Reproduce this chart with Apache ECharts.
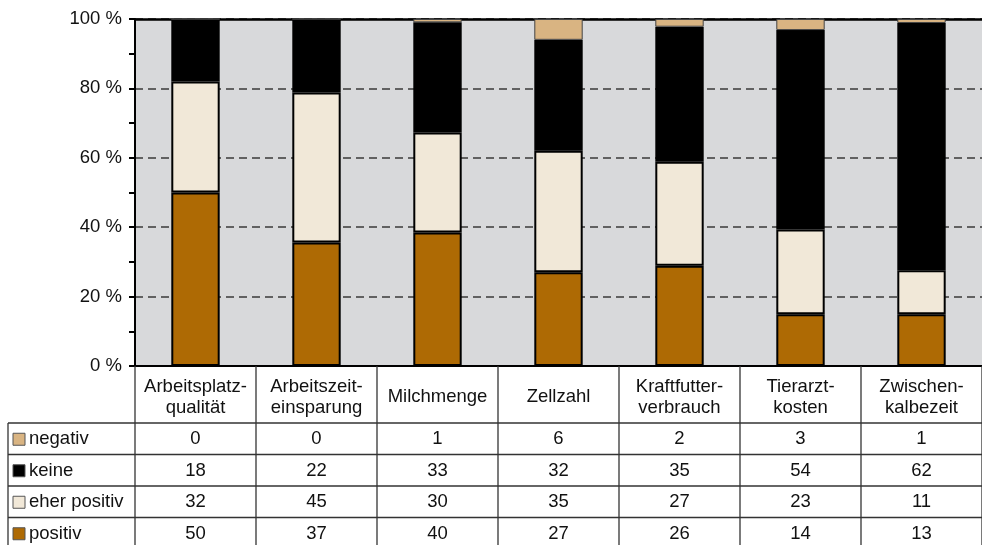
<!DOCTYPE html>
<html>
<head>
<meta charset="utf-8">
<script src="https://cdn.jsdelivr.net/npm/echarts@6/dist/echarts.min.js"></script>
<style>
  html, body { margin: 0; padding: 0; background: #fff; }
  #chart { width: 982px; height: 545px; }
</style>
</head>
<body>
<div id="chart"></div>
<script>
// Daten (Anzahl Nennungen je Kategorie)
const categories = [
  "Arbeitsplatz-\nqualität",
  "Arbeitszeit-\neinsparung",
  "Milchmenge",
  "Zellzahl",
  "Kraftfutter-\nverbrauch",
  "Tierarzt-\nkosten",
  "Zwischen-\nkalbezeit"
];
const positiv     = [50, 37, 40, 27, 26, 14, 13];
const eherPositiv = [32, 45, 30, 35, 27, 23, 11];
const keine       = [18, 22, 33, 32, 35, 54, 62];
const negativ     = [0, 0, 1, 6, 2, 3, 1];

const FONT = "'Liberation Sans', Arial, Helvetica, sans-serif";
const TXT = "#111";
const LINE = "#333";

// Reihen von unten nach oben gestapelt
const rows = [
  { name: "positiv", data: positiv, color: "#ae6a04", border: 2 },
  { name: "eher positiv", data: eherPositiv, color: "#f1e8d8", border: 2 },
  { name: "keine", data: keine, color: "#000000", border: 2 },
  { name: "negativ", data: negativ, color: "#d9b482", border: 1 }
];

// auf 100 % normieren
const totals = categories.map((c, i) => rows.reduce((s, r) => s + r.data[i], 0));
const pct = arr => arr.map((v, i) => (v / totals[i]) * 100);

const chart = echarts.init(document.getElementById("chart"), null, { renderer: "canvas" });

const gridLeft = 135, gridTop = 19, gridHeight = 347;

chart.setOption({
  animation: false,
  textStyle: { fontFamily: FONT },
  grid: {
    left: gridLeft,
    top: gridTop,
    width: 856,
    height: gridHeight,
    show: true,
    backgroundColor: "#d8d9db",
    borderWidth: 0
  },
  xAxis: [
    {
      type: "category",
      data: categories,
      axisLine: { show: true, lineStyle: { color: "#000", width: 2 } },
      axisTick: { show: false },
      axisLabel: {
        interval: 0,
        margin: 31,
        verticalAlign: "middle",
        fontSize: 18.5,
        lineHeight: 21,
        color: TXT,
        fontFamily: FONT
      }
    },
    {
      // obere Begrenzung (100 %)
      type: "category",
      data: categories,
      position: "top",
      axisLine: { show: true, lineStyle: { color: "#000", width: 2.5 } },
      axisTick: { show: false },
      axisLabel: { show: false }
    }
  ],
  yAxis: {
    type: "value",
    min: 0,
    max: 100,
    interval: 20,
    axisLine: { show: true, lineStyle: { color: "#000", width: 2 } },
    axisTick: { show: true, length: 6, lineStyle: { color: "#000", width: 2 } },
    minorTick: { show: true, splitNumber: 2, length: 6, lineStyle: { color: "#000", width: 2 } },
    splitLine: { show: true, lineStyle: { color: "#3a3a3a", width: 1.5, type: [8, 5] } },
    axisLabel: {
      formatter: "{value} %",
      fontSize: 18.5,
      color: TXT,
      margin: 13,
      fontFamily: FONT
    }
  },
  series: rows.map(r => ({
    name: r.name,
    type: "bar",
    stack: "gesamt",
    barWidth: "40%",
    data: pct(r.data),
    itemStyle: { color: r.color, borderColor: r.border > 1 ? "#000" : "#444", borderWidth: r.border },
    emphasis: { disabled: true }
  }))
});

// Datentabelle unter dem Diagramm
function drawTable() {
  const x0 = chart.convertToPixel({ xAxisIndex: 0 }, 0);
  const x1 = chart.convertToPixel({ xAxisIndex: 0 }, 1);
  const band = x1 - x0;
  const axisY = gridTop + gridHeight;
  const rowTop = [423, 454.5, 486, 517.5];
  const rowH = 31.5;
  const bottom = 545;
  const tableRows = [rows[3], rows[2], rows[1], rows[0]]; // negativ oben
  const els = [];

  const line = (xa, ya, xb, yb) => els.push({
    type: "line",
    shape: { x1: xa, y1: ya, x2: xb, y2: yb },
    style: { stroke: LINE, lineWidth: 1.3 },
    z: 10
  });

  // senkrechte Linien
  line(gridLeft, axisY, gridLeft, bottom);
  line(8, rowTop[0], 8, bottom);
  categories.forEach((c, i) => {
    const xb = chart.convertToPixel({ xAxisIndex: 0 }, i) + band / 2;
    line(xb, axisY, xb, bottom);
  });
  // waagrechte Linien
  rowTop.forEach(y => line(8, y, 982, y));

  tableRows.forEach((r, k) => {
    const cy = rowTop[k] + rowH / 2 + 0.5;
    els.push({
      type: "rect",
      shape: { x: 13, y: cy - 6, width: 12, height: 12 },
      style: { fill: r.color, stroke: "#555", lineWidth: 1 },
      z: 10
    });
    els.push({
      type: "text",
      x: 29, y: cy,
      style: { text: r.name, font: "18.5px " + FONT, fill: TXT, verticalAlign: "middle", align: "left" },
      z: 10
    });
    r.data.forEach((v, i) => {
      els.push({
        type: "text",
        x: chart.convertToPixel({ xAxisIndex: 0 }, i),
        y: cy,
        style: { text: String(v), font: "18.5px " + FONT, fill: TXT, verticalAlign: "middle", align: "center" },
        z: 10
      });
    });
  });

  chart.setOption({ graphic: els });
}
drawTable();
</script>
</body>
</html>
